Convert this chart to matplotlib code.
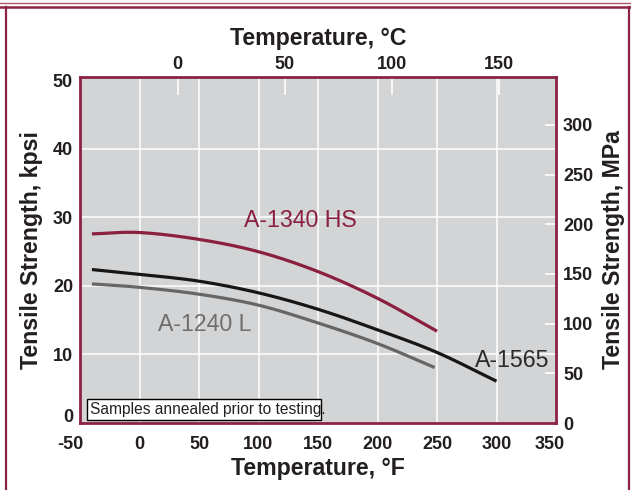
import matplotlib
matplotlib.use("Agg")
import matplotlib.pyplot as plt
from matplotlib.lines import Line2D
from matplotlib.patches import Rectangle
import matplotlib.transforms as mtrans
import numpy as np

plt.rcParams["axes.unicode_minus"] = False

# ---- data ----
hs_F = [-40, 0, 50, 100, 150, 200, 250]
hs_k = [27.6, 27.8, 26.8, 25.0, 22.1, 18.2, 13.4]

a1565_F = [-40, 0, 50, 100, 150, 200, 250, 300]
a1565_k = [22.4, 21.7, 20.7, 19.0, 16.6, 13.6, 10.3, 6.1]

a1240_F = [-40, 0, 50, 100, 150, 200, 248]
a1240_k = [20.3, 19.8, 18.8, 17.2, 14.6, 11.6, 8.1]

xticks_F = [-50, 0, 50, 100, 150, 200, 250, 300, 350]
yticks_k = [0, 10, 20, 30, 40, 50]
xticks_C = [0, 50, 100, 150]
yticks_MPa = [0, 50, 100, 150, 200, 250, 300]

MAROON = "#8c2342"
BG = "#d3d4d6"
TXT = "#231f20"
FAM = "Liberation Sans"

fig = plt.figure(figsize=(6.31, 4.90), dpi=100)
ax = fig.add_axes([80/631, 67/490, 476/631, 346/490])
ax.set_facecolor(BG)
ax.set_xlim(-50, 350)
ax.set_ylim(0, 50.5)

for x in xticks_F[1:-1]:
    ax.axvline(x, color="white", lw=1.1, zorder=1)
for y in yticks_k[1:-1]:
    ax.axhline(y, color="white", lw=1.1, zorder=1)

def smooth(xs, ys):
    xs = np.asarray(xs, float); ys = np.asarray(ys, float)
    out = []
    n = len(xs)
    for i in range(n - 1):
        p0 = (xs[i-1], ys[i-1]) if i > 0 else (2*xs[i]-xs[i+1], 2*ys[i]-ys[i+1])
        p1 = (xs[i], ys[i]); p2 = (xs[i+1], ys[i+1])
        p3 = (xs[i+2], ys[i+2]) if i + 2 < n else (2*xs[i+1]-xs[i], 2*ys[i+1]-ys[i])
        for s in np.linspace(0, 1, 25, endpoint=False):
            s2, s3 = s*s, s*s*s
            px = 0.5*((2*p1[0]) + (-p0[0]+p2[0])*s + (2*p0[0]-5*p1[0]+4*p2[0]-p3[0])*s2 + (-p0[0]+3*p1[0]-3*p2[0]+p3[0])*s3)
            py = 0.5*((2*p1[1]) + (-p0[1]+p2[1])*s + (2*p0[1]-5*p1[1]+4*p2[1]-p3[1])*s2 + (-p0[1]+3*p1[1]-3*p2[1]+p3[1])*s3)
            out.append((px, py))
    out.append((xs[-1], ys[-1]))
    out = np.array(out)
    return out[:, 0], out[:, 1]

for xs, ys, c in [(hs_F, hs_k, "#8a1f3e"), (a1240_F, a1240_k, "#666666"), (a1565_F, a1565_k, "#161616")]:
    sx, sy = smooth(xs, ys)
    ax.plot(sx, sy, color=c, lw=2.3, solid_capstyle="butt", zorder=3)

ax.text(135, 29.5, "A-1340 HS", color="#8a1f3e", fontsize=16.7, family=FAM,
        ha="center", va="center", zorder=4)
ax.text(55, 14.4, "A-1240 L", color="#6e6e6e", fontsize=16.7, family=FAM,
        ha="center", va="center", zorder=4)
ax.text(282, 9.1, "A-1565", color="#2a2a2a", fontsize=16.7, family=FAM,
        ha="left", va="center", zorder=4)

ax.add_patch(Rectangle((-44.3, 0.45), 196.8, 3.05, facecolor="white", edgecolor="black",
                       lw=1.0, zorder=5))
ax.text(-41.5, 1.95, "Samples annealed prior to testing.", fontsize=11.2,
        family=FAM, color="#222222", ha="left", va="center", zorder=6)

for s in ax.spines.values():
    s.set_color(MAROON)
    s.set_linewidth(2.0)
    s.set_zorder(7)

ax.set_xticks(xticks_F)
ax.set_yticks(yticks_k)
ax.tick_params(length=0, labelsize=13, colors=TXT)
ax.tick_params(axis="x", pad=9)
ax.tick_params(axis="y", pad=5)
for lab in ax.get_xticklabels() + ax.get_yticklabels():
    lab.set_family(FAM); lab.set_fontweight("bold")

def shift(lab, dx, dy):
    lab.set_transform(lab.get_transform() + mtrans.ScaledTranslation(dx/100, dy/100, fig.dpi_scale_trans))

xl = ax.get_xticklabels()
shift(xl[0], -10, 0)
shift(xl[-1], -6, 0)
yl = ax.get_yticklabels()
shift(yl[0], 0, 8)

ax.set_xlabel("Temperature, °F", fontsize=16.7, fontweight="bold", family=FAM,
              color=TXT, labelpad=3)
ax.set_ylabel("Tensile Strength, kpsi", fontsize=16.7, fontweight="bold", family=FAM,
              color=TXT, labelpad=7)

secx = ax.secondary_xaxis("top", functions=(lambda f: (f - 32) / 1.8, lambda c: c * 1.8 + 32))
secx.set_xticks(xticks_C)
secx.tick_params(direction="in", length=13, width=1.2, color="white", labelsize=13,
                 labelcolor=TXT, pad=3)
for lab in secx.get_xticklabels():
    lab.set_family(FAM); lab.set_fontweight("bold")
secx.spines["top"].set_visible(False)
secx.set_xlabel("Temperature, °C", fontsize=16.7, fontweight="bold", family=FAM,
                color=TXT, labelpad=8)

secy = ax.secondary_yaxis("right", functions=(lambda k: k * 6.895, lambda m: m / 6.895))
secy.set_yticks(yticks_MPa)
secy.tick_params(direction="in", length=8, width=1.2, color="white", labelsize=13,
                 labelcolor=TXT, pad=5)
for lab in secy.get_yticklabels():
    lab.set_family(FAM); lab.set_fontweight("bold")
secy.spines["right"].set_visible(False)
secy.set_ylabel("Tensile Strength, MPa", fontsize=16.7, fontweight="bold", family=FAM,
                color=TXT, labelpad=6)

# outer frame
H, W = 490, 631
fig.add_artist(Line2D([0, 1], [1 - 3.5/H, 1 - 3.5/H], color="#b0566f", lw=1.0))
fig.add_artist(Line2D([0, 1], [1 - 7.5/H, 1 - 7.5/H], color=MAROON, lw=1.8))
fig.add_artist(Line2D([5.5/W, 5.5/W], [0, 1 - 7.5/H], color=MAROON, lw=1.6))
fig.add_artist(Line2D([629/W, 629/W], [0, 1 - 7.5/H], color=MAROON, lw=1.6))

fig.savefig("out.png", dpi=100)
